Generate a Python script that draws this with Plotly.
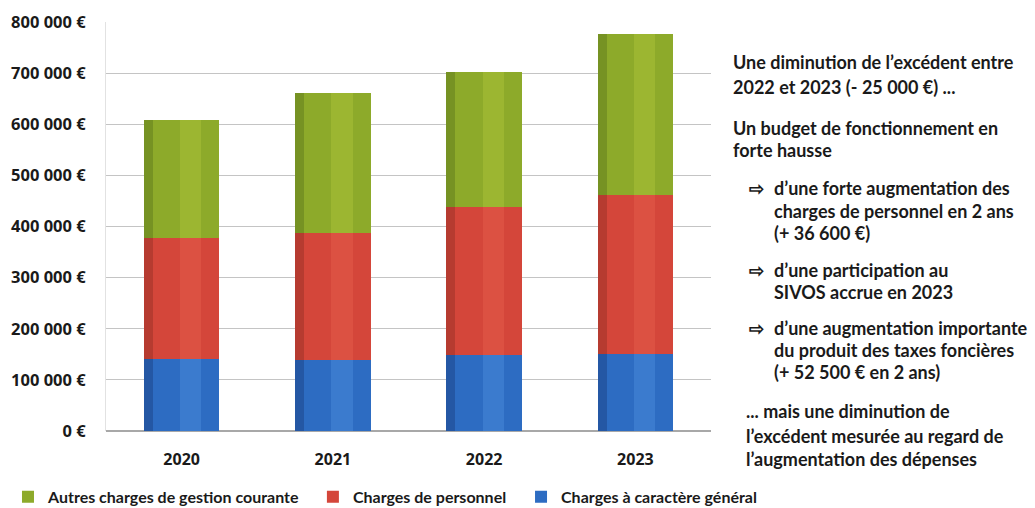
import plotly.graph_objects as go

years = ["2020", "2021", "2022", "2023"]
charges_generales = [140000, 139000, 149000, 150000]
charges_personnel = [238000, 248000, 289000, 312000]
autres_charges = [231000, 275000, 264000, 315000]

tick_vals = [0, 100000, 200000, 300000, 400000, 500000, 600000, 700000, 800000]
tick_text = ["0 €", "100 000 €", "200 000 €", "300 000 €", "400 000 €",
             "500 000 €", "600 000 €", "700 000 €", "800 000 €"]

# name, values, base colour, highlight colour, dark edge colour, legend id
series = [
    ("Charges à caractère général", charges_generales, "#2d6cc2", "#4f93e0", "#173a78", "legend3"),
    ("Charges de personnel", charges_personnel, "#d4463a", "#e8624f", "#8a2a22", "legend2"),
    ("Autres charges de gestion courante", autres_charges, "#8daa2a", "#b4c93c", "#556f18", "legend"),
]

FONT = "Lato"
TXT = "#1a1a1a"

fig = go.Figure()
# base cylinders
for name, vals, col, hi, dk, lg in series:
    fig.add_trace(go.Bar(
        x=years, y=vals, name=name, legend=lg,
        marker=dict(color=col, line=dict(width=0)),
        width=0.5, offset=-0.25,
    ))
# dark left edge shading
for name, vals, col, hi, dk, lg in series:
    fig.add_trace(go.Bar(
        x=years, y=vals, name=name, showlegend=False, hoverinfo="skip",
        marker=dict(color=dk, opacity=0.4, line=dict(width=0)),
        width=0.06, offset=-0.25, xaxis="x2", yaxis="y2",
    ))
# light highlight band
for name, vals, col, hi, dk, lg in series:
    fig.add_trace(go.Bar(
        x=years, y=vals, name=name, showlegend=False, hoverinfo="skip",
        marker=dict(color=hi, opacity=0.4, line=dict(width=0)),
        width=0.14, offset=-0.01, xaxis="x3", yaxis="y3",
    ))

yrange = [0, 800000]
hidden_x = dict(overlaying="x", matches="x", visible=False, showgrid=False)
hidden_y = dict(overlaying="y", range=yrange, visible=False, showgrid=False)

def legend_at(x):
    return dict(
        orientation="h", x=x, xanchor="left", y=-0.161, yanchor="middle",
        font=dict(family=FONT, size=16, weight="bold", color=TXT),
        itemwidth=30, bgcolor="rgba(0,0,0,0)",
    )

fig.update_layout(
    barmode="stack",
    width=1035, height=508,
    margin=dict(l=106, r=324, t=22, b=77, autoexpand=False),
    paper_bgcolor="white", plot_bgcolor="white",
    font=dict(family=FONT, color=TXT),
    showlegend=True,
    legend=legend_at(-0.162),
    legend2=legend_at(0.342),
    legend3=legend_at(0.686),
    xaxis=dict(
        showgrid=False, showline=False,
        tickfont=dict(family="Open Sans", size=16, weight="bold", color=TXT),
        ticks="outside", ticklen=14, tickcolor="rgba(0,0,0,0)",
    ),
    xaxis2=hidden_x, xaxis3=hidden_x,
    yaxis2=hidden_y, yaxis3=hidden_y,
    yaxis=dict(
        range=yrange,
        tickvals=tick_vals, ticktext=tick_text,
        showgrid=True, gridcolor="#c4c4c4", gridwidth=1,
        zeroline=True, zerolinecolor="#a8a8a8",
        showline=True, linecolor="#e2e2e2",
        tickfont=dict(family="Open Sans", size=16.5, weight="bold", color=TXT),
        ticks="", ticklabelstandoff=16,
    ),
)

lines = [
    (731, 62, "Une diminution de l’excédent entre"),
    (731, 87, "2022 et 2023 (- 25 000 €) ..."),
    (731, 128, "Un budget de fonctionnement en"),
    (731, 150, "forte hausse"),
    (747, 188, "⇨"),
    (772, 188, "d’une forte augmentation des"),
    (772, 211, "charges de personnel en 2 ans"),
    (772, 233, "(+ 36 600 €)"),
    (747, 270, "⇨"),
    (772, 270, "d’une participation au"),
    (772, 292, "SIVOS accrue en 2023"),
    (747, 328, "⇨"),
    (772, 328, "d’une augmentation importante"),
    (772, 350, "du produit des taxes foncières"),
    (772, 372, "(+ 52 500 € en 2 ans)"),
    (744, 411, "... mais une diminution de"),
    (744, 436, "l’excédent mesurée au regard de"),
    (744, 459, "l’augmentation des dépenses"),
]
plot_l, plot_t = 106, 22
plot_w, plot_h = 1035 - 106 - 324, 508 - 22 - 77
for x, y, t in lines:
    fig.add_annotation(
        x=(x - plot_l) / plot_w, y=(plot_t + plot_h - y) / plot_h,
        xref="paper", yref="paper",
        text=t, showarrow=False, xanchor="left", yanchor="middle",
        font=dict(family=FONT, size=18, weight="bold", color=TXT),
    )

fig.write_html("out.html")
